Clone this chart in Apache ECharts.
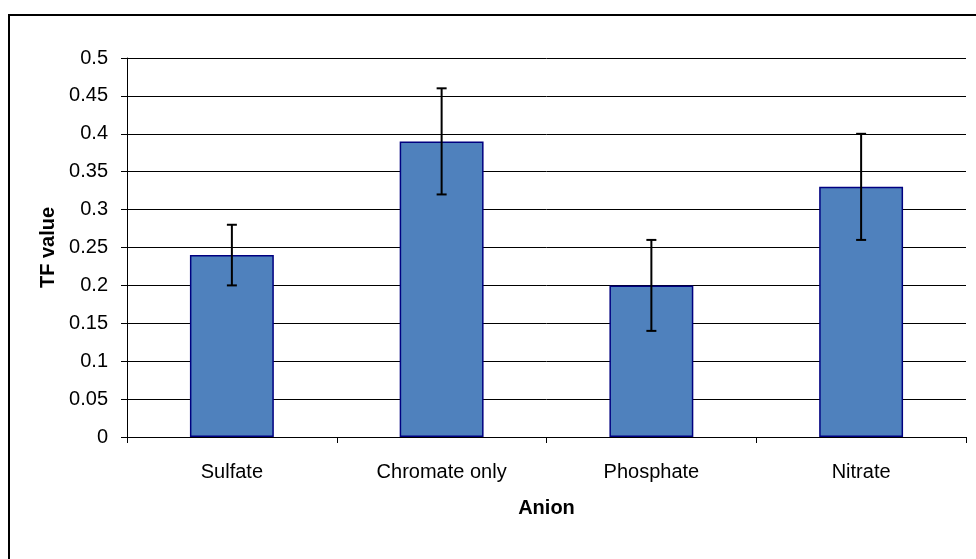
<!DOCTYPE html>
<html>
<head>
<meta charset="utf-8">
<script src="https://cdn.jsdelivr.net/npm/echarts@6/dist/echarts.min.js"></script>
<style>
  html, body { margin: 0; padding: 0; background: #fff; }
  #chart { width: 976px; height: 559px; }
</style>
</head>
<body>
<div id="chart"></div>
<script>
var categories = ['Sulfate', 'Chromate only', 'Phosphate', 'Nitrate']
var tfValues = [0.24, 0.39, 0.20, 0.33]
var errLow = [0.20, 0.32, 0.14, 0.26]
var errHigh = [0.28, 0.46, 0.26, 0.40]

var errData = categories.map(function (c, i) {
  return [i, errLow[i], errHigh[i]]
})

var chart = echarts.init(document.getElementById('chart'))

var options = {
  animation: false,
  textStyle: { fontFamily: 'Liberation Sans, Arial, sans-serif' },
  grid: { left: 127, right: 10, top: 58, bottom: 122 },
  graphic: [
    {
      type: 'rect',
      shape: { x: 9, y: 15, width: 1000, height: 600 },
      style: { fill: 'none', stroke: '#000', lineWidth: 2 },
      silent: true
    }
  ],
  xAxis: {
    type: 'category',
    data: categories,
    name: 'Anion',
    nameLocation: 'middle',
    nameGap: 61,
    nameTextStyle: { fontSize: 20, fontWeight: 'bold', color: '#000' },
    axisLine: { lineStyle: { color: '#000', width: 1 } },
    axisTick: { show: true, length: 6, alignWithLabel: false, lineStyle: { color: '#000' } },
    axisLabel: { color: '#000', fontSize: 20, margin: 25 }
  },
  yAxis: {
    type: 'value',
    min: 0,
    max: 0.5,
    interval: 0.05,
    name: 'TF value',
    nameLocation: 'middle',
    nameGap: 69,
    nameRotate: 90,
    nameTextStyle: { fontSize: 20, fontWeight: 'bold', color: '#000' },
    axisLine: { show: true, lineStyle: { color: '#000', width: 1 } },
    axisTick: { show: true, length: 6, lineStyle: { color: '#000' } },
    axisLabel: {
      color: '#000',
      fontSize: 20,
      margin: 19,
      formatter: function (v) { return String(Math.round(v * 100) / 100) }
    },
    splitLine: { show: true, lineStyle: { color: '#000', width: 1 } }
  },
  series: [
    {
      type: 'bar',
      data: tfValues,
      barWidth: '40%',
      itemStyle: { color: '#4F81BD', borderColor: '#000080', borderWidth: 1.5 }
    },
    {
      type: 'custom',
      data: errData,
      z: 10,
      renderItem: function (params, api) {
        var x = api.value(0)
        var lo = api.coord([x, api.value(1)])
        var hi = api.coord([x, api.value(2)])
        var half = 5
        var style = { stroke: '#000', lineWidth: 2 }
        return {
          type: 'group',
          children: [
            { type: 'line', shape: { x1: lo[0], y1: lo[1], x2: hi[0], y2: hi[1] }, style: style },
            { type: 'line', shape: { x1: lo[0] - half, y1: lo[1], x2: lo[0] + half, y2: lo[1] }, style: style },
            { type: 'line', shape: { x1: hi[0] - half, y1: hi[1], x2: hi[0] + half, y2: hi[1] }, style: style }
          ]
        }
      }
    }
  ]
}
chart.setOption(options)
</script>
</body>
</html>
